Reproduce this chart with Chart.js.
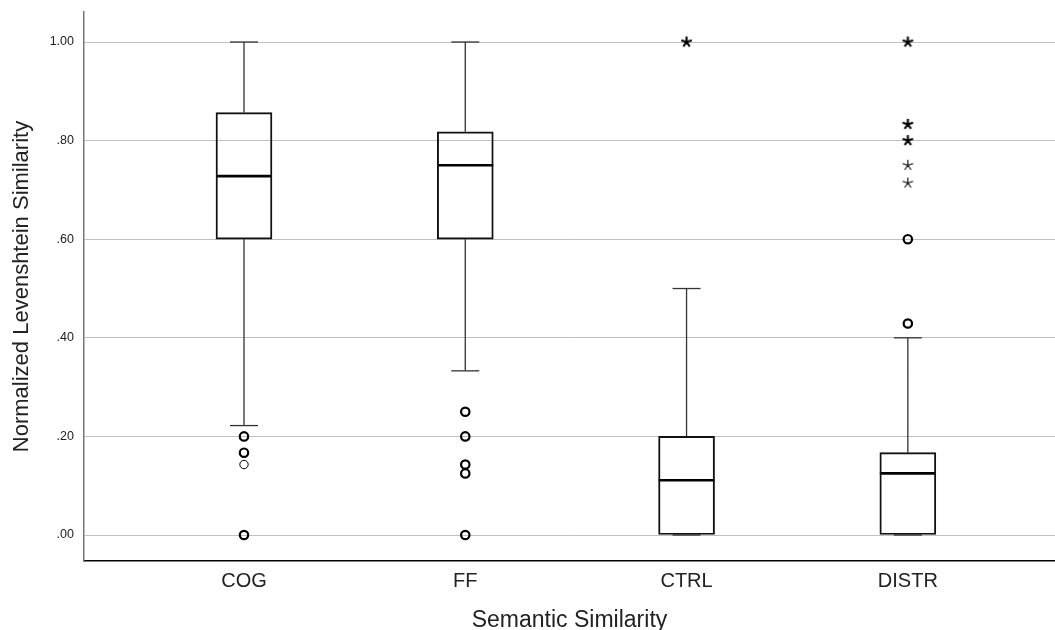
<!DOCTYPE html>
<html lang="en">
<head>
  <meta charset="UTF-8" />
  <title>Normalized Levenshtein Similarity by Semantic Similarity</title>
  <script src="https://cdn.jsdelivr.net/npm/chart.js"></script>
  <style>
    html, body {
      margin: 0;
      padding: 0;
      background: #fff;
      overflow: hidden;
    }

    .chart-box {
      width: 1055px;
      height: 630px;
    }

    canvas {
      display: block;
    }
  </style>
</head>
<body>
  <div class="chart-box">
    <canvas id="boxChart"></canvas>
  </div>

  <script>
    // values
    const categories = ['COG', 'FF', 'CTRL', 'DISTR'];
    const q1 = [0.600, 0.600, 0.000, 0.000];
    const medians = [0.728, 0.750, 0.111, 0.125];
    const q3 = [0.857, 0.818, 0.200, 0.167];
    const whiskerLow = [0.222, 0.333, 0.000, 0.000];
    const whiskerHigh = [1.000, 1.000, 0.500, 0.400];
    const yTicks = [0, 0.2, 0.4, 0.6, 0.8, 1.0];

    // outliers (circles) and extremes (stars); n = cases sharing that value
    const outliers = [
      [{ v: 0.200, n: 2 }, { v: 0.167, n: 2 }, { v: 0.143, n: 1 }, { v: 0.000, n: 2 }],
      [{ v: 0.250, n: 2 }, { v: 0.200, n: 2 }, { v: 0.143, n: 2 }, { v: 0.125, n: 2 }, { v: 0.000, n: 2 }],
      [],
      [{ v: 0.600, n: 2 }, { v: 0.429, n: 2 }]
    ];
    const extremes = [
      [],
      [],
      [{ v: 1.000, n: 2 }],
      [{ v: 1.000, n: 2 }, { v: 0.833, n: 2 }, { v: 0.800, n: 2 }, { v: 0.750, n: 1 }, { v: 0.714, n: 1 }]
    ];

    function makeStar(lw) {
      const c = document.createElement('canvas');
      c.width = 13;
      c.height = 13;
      const g = c.getContext('2d');
      g.strokeStyle = '#000';
      g.lineWidth = lw;
      g.beginPath();
      for (let k = 0; k < 5; k++) {
        const a = -Math.PI / 2 + k * 2 * Math.PI / 5;
        g.moveTo(6.5, 6.5);
        g.lineTo(6.5 + 5.5 * Math.cos(a), 6.5 + 5.5 * Math.sin(a));
      }
      g.stroke();
      return c;
    }

    const pick = (list, bold) => {
      const pts = [];
      list.forEach((arr, i) => arr.forEach(o => {
        if ((o.n > 1) === bold) pts.push({ x: i + 1, y: o.v });
      }));
      return pts;
    };

    const boxData = categories.map((c, i) => ({ x: i + 1, y: [q1[i], q3[i]] }));
    const medianData = categories.map((c, i) => ({ x: i + 1, y: medians[i] }));
    const whiskerData = [];
    const capData = [];
    categories.forEach((c, i) => {
      const x = i + 1;
      whiskerData.push({ x, y: q3[i] }, { x, y: whiskerHigh[i] }, { x, y: null });
      whiskerData.push({ x, y: q1[i] }, { x, y: whiskerLow[i] }, { x, y: null });
      capData.push({ x, y: whiskerHigh[i] }, { x, y: whiskerLow[i] });
    });

    // chart.js pads axes for edge labels; the SPSS frame has none
    const noPad = s => {
      s.paddingLeft = 0;
      s.paddingRight = 0;
      s.paddingTop = 0;
      s.paddingBottom = 0;
    };

    const ctx = document.getElementById('boxChart').getContext('2d');
    const fontFamily = '"Liberation Sans", Arial, sans-serif';

    new Chart(ctx, {
      type: 'scatter',
      data: {
        datasets: [
          {
            type: 'bar',
            data: boxData,
            backgroundColor: 'rgba(255,255,255,0)',
            borderColor: '#111',
            borderWidth: 1.3,
            borderSkipped: false,
            barThickness: 56,
            grouped: false
          },
          {
            data: medianData,
            pointStyle: 'line',
            pointRadius: 28,
            borderColor: '#000',
            borderWidth: 2.6
          },
          {
            data: whiskerData,
            showLine: true,
            spanGaps: false,
            pointRadius: 0,
            borderColor: '#333',
            borderWidth: 1.3
          },
          {
            data: capData,
            pointStyle: 'line',
            pointRadius: 14,
            borderColor: '#333',
            borderWidth: 1.3
          },
          {
            data: pick(outliers, false),
            pointStyle: 'circle',
            pointRadius: 4.2,
            borderColor: '#000',
            backgroundColor: 'rgba(255,255,255,0)',
            borderWidth: 1
          },
          {
            data: pick(outliers, true),
            pointStyle: 'circle',
            pointRadius: 4.2,
            borderColor: '#000',
            backgroundColor: 'rgba(255,255,255,0)',
            borderWidth: 2.2
          },
          {
            data: pick(extremes, false),
            pointStyle: makeStar(1.1)
          },
          {
            data: pick(extremes, true),
            pointStyle: makeStar(2.1)
          }
        ]
      },
      options: {
        responsive: true,
        maintainAspectRatio: false,
        animation: false,
        events: [],
        layout: { autoPadding: false, padding: { top: 12, right: 0, bottom: 0, left: 0 } },
        plugins: {
          legend: { display: false },
          tooltip: { enabled: false }
        },
        scales: {
          x: {
            type: 'linear',
            min: 0.277,
            max: 4.665,
            offset: false,
            afterFit: s => { s.height = 69; noPad(s); },
            afterBuildTicks: s => { s.ticks = categories.map((c, i) => ({ value: i + 1 })); },
            grid: { display: false, offset: false, drawTicks: false },
            border: { display: true, color: '#000', width: 1.5 },
            ticks: {
              autoSkip: false,
              maxRotation: 0,
              padding: 8,
              color: '#222',
              font: { family: fontFamily, size: 20 },
              callback: v => categories[v - 1]
            },
            title: {
              display: true,
              text: 'Semantic Similarity',
              color: '#222',
              font: { family: fontFamily, size: 23, lineHeight: 1 },
              padding: { top: 0, bottom: -2 }
            }
          },
          y: {
            min: -0.0527,
            max: 1.0609,
            afterFit: s => { s.width = 84; noPad(s); },
            afterBuildTicks: s => { s.ticks = yTicks.map(v => ({ value: v })); },
            grid: { color: '#c0c0c0', lineWidth: 1, drawTicks: false },
            border: { display: true, color: '#777', width: 1.5 },
            ticks: {
              padding: 10,
              color: '#222',
              font: { family: fontFamily, size: 12.5 },
              callback: v => v.toFixed(2).replace(/^0/, '')
            },
            title: {
              display: true,
              text: 'Normalized Levenshtein Similarity',
              color: '#222',
              font: { family: fontFamily, size: 22, lineHeight: 1 },
              padding: { top: 11, bottom: 0 }
            }
          }
        }
      }
    });
  </script>
</body>
</html>
